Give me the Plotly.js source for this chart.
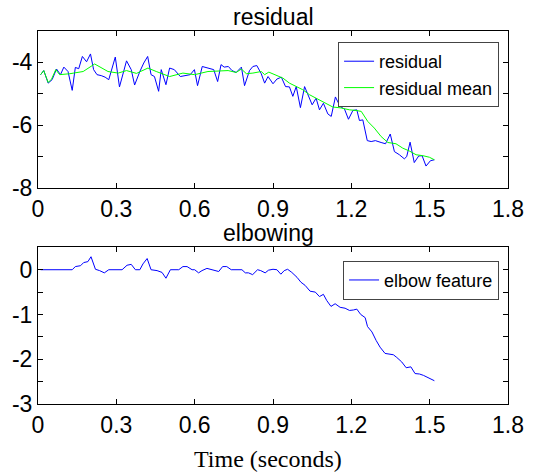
<!DOCTYPE html>
<html>
<head>
<meta charset="utf-8">
<script src="https://cdn.plot.ly/plotly-3.0.1.min.js"></script>
<style>html,body{margin:0;padding:0;background:#fff;}#chart{width:537px;height:473px;}</style>
</head>
<body>
<div id="chart"></div>
<script>
// ---- data ----
var residualTime = [0.010,0.022,0.039,0.054,0.071,0.086,0.099,0.115,0.131,0.143,0.156,0.170,0.186,0.201,0.213,0.226,0.242,0.257,0.271,0.296,0.312,0.339,0.357,0.370,0.390,0.405,0.420,0.433,0.446,0.462,0.472,0.490,0.504,0.522,0.545,0.564,0.583,0.599,0.611,0.629,0.653,0.673,0.688,0.701,0.713,0.729,0.743,0.759,0.779,0.791,0.810,0.823,0.838,0.855,0.868,0.881,0.900,0.915,0.932,0.948,0.963,0.976,0.989,1.005,1.021,1.037,1.050,1.065,1.078,1.093,1.110,1.123,1.139,1.157,1.174,1.189,1.206,1.221,1.231,1.244,1.261,1.276,1.292,1.314,1.331,1.349,1.365,1.384,1.403,1.412,1.425,1.441,1.458,1.471,1.486,1.503,1.518];
var residualValues = [-4.39,-4.26,-4.66,-4.55,-4.21,-4.39,-4.15,-4.29,-4.89,-4.16,-4.20,-3.81,-3.98,-3.73,-4.23,-4.39,-4.42,-4.47,-4.55,-3.83,-4.78,-3.95,-4.23,-4.72,-4.29,-4.02,-3.81,-4.39,-4.45,-4.92,-4.23,-4.71,-4.18,-4.23,-4.45,-4.42,-4.39,-4.23,-4.74,-4.13,-4.18,-4.23,-4.61,-4.07,-4.15,-4.13,-4.26,-4.32,-4.15,-4.74,-4.26,-4.13,-4.10,-4.36,-4.66,-4.45,-4.68,-4.53,-4.47,-4.77,-4.78,-5.08,-4.77,-5.44,-4.77,-5.08,-5.35,-5.14,-5.51,-5.30,-5.64,-5.72,-5.10,-5.40,-5.49,-5.81,-5.53,-5.51,-5.85,-5.83,-6.49,-6.52,-6.49,-6.55,-6.59,-6.28,-6.84,-6.94,-7.07,-7.00,-6.54,-7.19,-6.98,-6.97,-7.30,-7.13,-7.10];

var meanTime = [0.010,0.022,0.039,0.052,0.068,0.083,0.122,0.173,0.217,0.268,0.307,0.339,0.377,0.421,0.453,0.504,0.555,0.600,0.651,0.696,0.728,0.759,0.779,0.798,0.823,0.855,0.868,0.884,0.912,0.938,0.963,0.989,1.014,1.040,1.072,1.104,1.129,1.161,1.193,1.218,1.238,1.263,1.288,1.314,1.340,1.371,1.397,1.422,1.448,1.474,1.499,1.518];
var meanValues = [-4.39,-4.26,-4.64,-4.53,-4.23,-4.39,-4.36,-4.29,-4.05,-4.29,-4.34,-4.26,-4.35,-4.18,-4.29,-4.45,-4.34,-4.39,-4.29,-4.26,-4.26,-4.32,-4.21,-4.36,-4.34,-4.29,-4.39,-4.31,-4.42,-4.50,-4.66,-4.77,-4.87,-5.03,-5.17,-5.32,-5.42,-5.45,-5.51,-5.53,-5.56,-5.88,-6.09,-6.36,-6.55,-6.59,-6.73,-6.82,-6.94,-6.97,-7.02,-7.10];

var elbowTime = [0.010,0.131,0.143,0.163,0.175,0.191,0.203,0.220,0.236,0.254,0.271,0.322,0.341,0.357,0.373,0.390,0.402,0.418,0.433,0.456,0.475,0.490,0.507,0.539,0.555,0.571,0.590,0.600,0.615,0.628,0.647,0.666,0.692,0.707,0.723,0.740,0.781,0.794,0.806,0.822,0.841,0.853,0.870,0.883,0.900,0.915,0.930,0.943,0.956,0.972,0.992,1.007,1.023,1.042,1.062,1.078,1.093,1.106,1.122,1.138,1.157,1.176,1.193,1.208,1.221,1.236,1.253,1.262,1.279,1.295,1.310,1.329,1.346,1.361,1.374,1.393,1.410,1.428,1.444,1.461,1.476,1.495,1.518];
var elbowValues = [0,0,0.07,0.09,0.16,0.18,0.29,0.01,-0.02,-0.07,0,0,0.10,0.12,0,0,0.13,0.25,0,-0.02,-0.06,-0.19,0,0,0.07,0.07,0,0,-0.07,-0.02,0.03,0,-0.04,0.07,0.07,0,0,-0.07,-0.07,-0.11,0,-0.02,-0.07,-0.01,0.01,0,-0.10,-0.02,0.01,-0.06,-0.17,-0.28,-0.35,-0.48,-0.50,-0.60,-0.55,-0.69,-0.82,-0.76,-0.84,-0.86,-0.91,-0.90,-0.88,-1.00,-1.07,-1.27,-1.39,-1.58,-1.73,-1.87,-1.89,-1.90,-1.96,-2.06,-2.19,-2.17,-2.32,-2.33,-2.36,-2.41,-2.48];

var xTickVals = [0,0.3,0.6,0.9,1.2,1.5,1.8];
var xTickText = ["0","0.3","0.6","0.9","1.2","1.5","1.8"];
var y1TickVals = [-8,-6,-4];
var y1TickText = ["-8","-6","-4"];
var y2TickVals = [-3,-2,-1,0];
var y2TickText = ["-3","-2","-1","0"];

// ---- chart ----
var tickFont = {family:"Liberation Sans, Arial, sans-serif", size:23, color:"#000"};
function xAxis(anchor){
  return {anchor:anchor, range:[0,1.8], tickmode:"array", tickvals:xTickVals, ticktext:xTickText,
    ticks:"inside", ticklen:5, tickcolor:"#000", showline:true, linecolor:"#000", linewidth:1,
    mirror:"ticks", showgrid:false, zeroline:false, tickfont:tickFont, fixedrange:true};
}
function yAxis(anchor, range, vals, text, dom, minorStep){
  return {anchor:anchor, domain:dom, range:range, tickmode:"array", tickvals:vals, ticktext:text,
    ticks:"inside", ticklen:5, tickcolor:"#000", showline:true, linecolor:"#000", linewidth:1,
    mirror:"ticks", showgrid:false, zeroline:false, tickfont:tickFont, ticklabelstandoff:0,
    minor:{dtick:minorStep, tick0:0, ticks:"inside", ticklen:5, tickcolor:"#000", showgrid:false}};
}

var traces = [
  {x:residualTime, y:residualValues, type:"scatter", mode:"lines", name:"residual",
   line:{color:"#0000ff", width:1}, xaxis:"x", yaxis:"y", legend:"legend"},
  {x:meanTime, y:meanValues, type:"scatter", mode:"lines", name:"residual mean",
   line:{color:"#00ff00", width:1}, xaxis:"x", yaxis:"y", legend:"legend"},
  {x:elbowTime, y:elbowValues, type:"scatter", mode:"lines", name:"elbow feature",
   line:{color:"#0000ff", width:1}, xaxis:"x2", yaxis:"y2", legend:"legend2"}
];

var legendFont = {family:"Liberation Sans, Arial, sans-serif", size:18, color:"#000"};
var layout = {
  width:537, height:473,
  margin:{l:37.5, r:29, t:31, b:69},
  paper_bgcolor:"#fff", plot_bgcolor:"#fff",
  showlegend:true,
  xaxis:xAxis("y"),
  yaxis:yAxis("x", [-8,-3], y1TickVals, y1TickText, [0.579,1], 1),
  xaxis2:xAxis("y2"),
  yaxis2:yAxis("x2", [-3,0.5], y2TickVals, y2TickText, [0,0.42], 0.5),
  legend:{x:0.981, y:0.9705, xanchor:"right", yanchor:"top", bgcolor:"#fff",
    bordercolor:"#444", borderwidth:1, font:legendFont, itemwidth:30, tracegroupgap:0},
  legend2:{x:0.981, y:0.384, xanchor:"right", yanchor:"top", bgcolor:"#fff",
    bordercolor:"#444", borderwidth:1, font:legendFont, itemwidth:30},
  annotations:[
    {text:"residual", xref:"paper", yref:"paper", x:0.50, y:1.0375, xanchor:"center", yanchor:"middle",
     showarrow:false, font:{family:"Liberation Sans, Arial, sans-serif", size:23, color:"#000"}},
    {text:"elbowing", xref:"paper", yref:"paper", x:0.49, y:0.458, xanchor:"center", yanchor:"middle",
     showarrow:false, font:{family:"Liberation Sans, Arial, sans-serif", size:23, color:"#000"}},
    {text:"Time (seconds)", xref:"paper", yref:"paper", x:0.49, y:-0.147, xanchor:"center", yanchor:"middle",
     showarrow:false, font:{family:"Liberation Serif, Times New Roman, serif", size:24, color:"#000"}}
  ]
};

Plotly.newPlot("chart", traces, layout, {displayModeBar:false, staticPlot:true});
</script>
</body>
</html>
